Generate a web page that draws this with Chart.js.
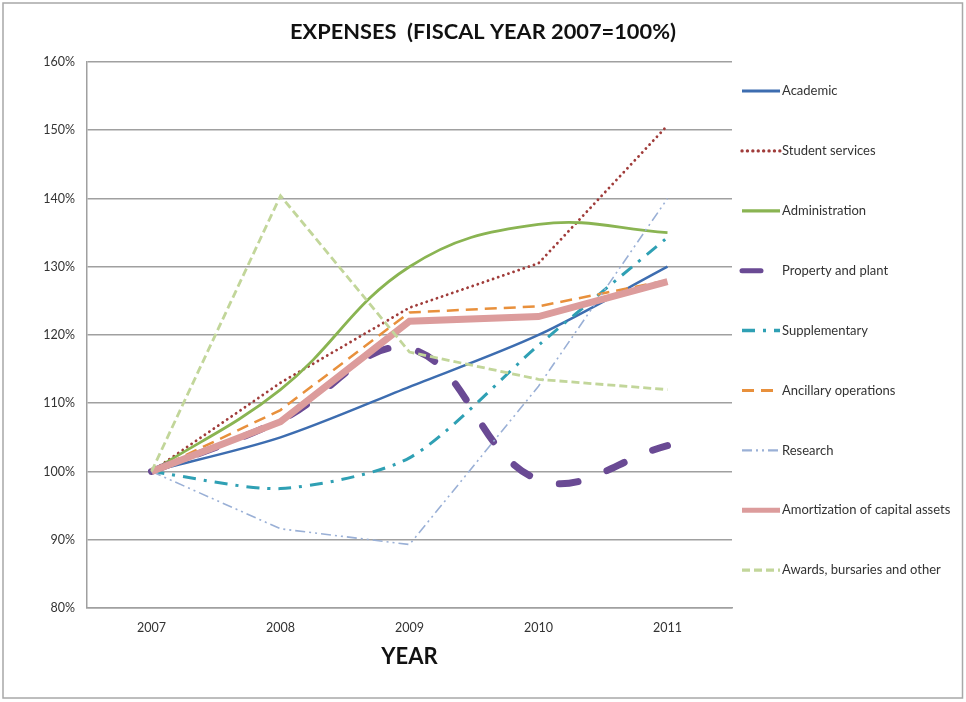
<!DOCTYPE html>
<html>
<head>
<meta charset="utf-8">
<script src="https://cdn.jsdelivr.net/npm/chart.js@4"></script>
<style>
  html, body { margin: 0; padding: 0; background: #fff; }
  #wrap { width: 966px; height: 702px; position: relative; }
</style>
</head>
<body>
<div id="wrap"><canvas id="c"></canvas></div>
<script>
const years = ['2007', '2008', '2009', '2010', '2011'];
const yTicks = [80, 90, 100, 110, 120, 130, 140, 150, 160];

const academic      = [100, 105.0, 112.4, 120.0, 130.0];
const studentSvc    = [100, 113.0, 124.0, 130.5, 150.7];
const administration= [100, 112.0, 130.0, 136.2, 135.0];
const property      = [100, 107.5, 118.0, 98.8, 103.8];
const supplementary = [100, 97.5, 102.0, 118.5, 134.3];
const ancillary     = [100, 109.0, 123.3, 124.2, 128.0];
const research      = [100, 91.6, 89.3, 112.5, 140.0];
const amortization  = [100, 107.3, 122.0, 122.7, 127.8];
const awards        = [100, 140.4, 117.5, 113.5, 112.0];

const seriesNames = ['Academic', 'Student services', 'Administration', 'Property and plant',
  'Supplementary', 'Ancillary operations', 'Research', 'Amortization of capital assets',
  'Awards, bursaries and other'];

const FONT = 'Lato, "Liberation Sans", sans-serif';

function ds(i, data, color, width, dash, cap, tension) {
  return {
    label: seriesNames[i], data, borderColor: color, backgroundColor: color,
    borderWidth: width, borderDash: dash, borderCapStyle: cap, tension: tension,
    pointRadius: 0, pointHoverRadius: 0, fill: false, order: 20 - i
  };
}

const datasets = [
  ds(0, academic, '#3d6db0', 2.5, [], 'butt', 0.3),
  ds(1, studentSvc, '#a03c3a', 2.8, [0.1, 5.3], 'round', 0),
  ds(2, administration, '#8ab452', 2.8, [], 'butt', 0.4),
  ds(3, property, '#6a4a94', 7, [19, 31], 'round', 0.4),
  ds(4, supplementary, '#2fa0b4', 3, [13, 8, 3, 8], 'butt', 0.25),
  ds(5, ancillary, '#e8903c', 2.5, [12, 7], 'butt', 0),
  ds(6, research, '#9ab0d6', 1.6, [10, 4, 2, 4, 2, 4], 'butt', 0),
  ds(7, amortization, '#dc9c9c', 7, [], 'butt', 0),
  ds(8, awards, '#c2d69a', 2.8, [8, 4], 'butt', 0)
];

const legendPlugin = {
  id: 'customLegend',
  afterDraw(chart) {
    const ctx = chart.ctx;
    ctx.save();
    chart.data.datasets.forEach((d, i) => {
      const y = 91 + 59.9 * i;
      ctx.beginPath();
      ctx.strokeStyle = d.borderColor;
      ctx.lineWidth = Math.min(d.borderWidth + 0.5, 5);
      ctx.lineCap = d.borderCapStyle;
      ctx.setLineDash(d.borderDash || []);
      ctx.moveTo(742, y);
      ctx.lineTo(780, y);
      ctx.stroke();
      ctx.setLineDash([]);
      ctx.fillStyle = '#333';
      ctx.font = '13px ' + FONT;
      ctx.textBaseline = 'middle';
      ctx.textAlign = 'left';
      ctx.fillText(d.label, 782, y);
    });
    ctx.restore();
  }
};

const framePlugin = {
  id: 'frame',
  afterDraw(chart) {
    const ctx = chart.ctx;
    ctx.save();
    ctx.strokeStyle = '#a8a8a8';
    ctx.lineWidth = 1.5;
    ctx.strokeRect(3, 3, 959.5, 695);
    ctx.restore();
  }
};

new Chart(document.getElementById('c'), {
  type: 'line',
  data: { labels: years, datasets },
  plugins: [legendPlugin, framePlugin],
  options: {
    responsive: true,
    maintainAspectRatio: false,
    animation: false,
    layout: { padding: 0 },
    plugins: {
      legend: { display: false },
      tooltip: { enabled: false },
      title: {
        display: true,
        text: 'EXPENSES  (FISCAL YEAR 2007=100%)',
        color: '#111',
        font: { family: FONT, size: 21.8, weight: 'bold' },
        padding: { top: 18.5, bottom: 17.3 }
      }
    },
    scales: {
      x: {
        type: 'category',
        offset: true,
        grid: { display: false, drawTicks: false },
        border: { display: true, color: '#a0a0a0', width: 1.5 },
        ticks: { color: '#333', font: { family: FONT, size: 12.5 }, padding: 12.5, maxRotation: 0 },
        title: {
          display: true, text: 'YEAR', color: '#111',
          font: { family: FONT, size: 22, weight: 'bold' },
          padding: { top: 0, bottom: 32 }
        },
        afterFit(s) { s.height = 94; }
      },
      y: {
        type: 'linear',
        min: 80, max: 160,
        afterBuildTicks(s) { s.ticks = yTicks.map(v => ({ value: v })); },
        grid: { color: '#a0a0a0', lineWidth: 1.5, drawTicks: false },
        border: { display: true, color: '#a0a0a0', width: 1.5 },
        ticks: { color: '#333', font: { family: FONT, size: 12.5 }, padding: 12,
                 callback: v => v + '%' },
        afterFit(s) { s.width = 87; }
      },
      yRight: {
        type: 'linear',
        position: 'right',
        display: true,
        grid: { display: false, drawTicks: false },
        border: { display: false },
        ticks: { display: false },
        afterFit(s) { s.width = 234; }
      }
    }
  }
});
</script>
</body>
</html>
